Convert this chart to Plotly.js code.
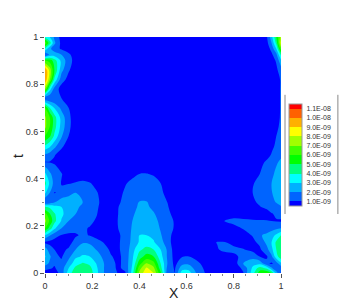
<!DOCTYPE html>
<html><head><meta charset="utf-8">
<script src="https://cdn.plot.ly/plotly-3.0.1.min.js"></script>
<style>html,body{margin:0;padding:0;background:#fff}</style></head>
<body><div id="c" style="width:346px;height:308px"></div>
<script>
const xs=[0,.02,.04,.07,.1,.13,.16,.19,.22,.25, .28,.31,.34,.37,.4,.43,.46,.49,.52,.55, .58,.61,.64,.67,.7,.73,.76,.8,.84,.88, .91,.94,.96,.98,1];
const ts=[0,.02,.04,.07,.1,.13,.16,.19,.22,.25,.28,.3,.34,.38,.42,.445,.47,.5,.54,.58,.62,.66,.7,.74,.78,.82,.86,.9,.925,.95,.975,1];
const zE9=[
[.7,.5,.5,1.4,3.5,4.7,5,4.6,3.2,2,  1.4,.95,.9,3.5,7.3,8.7,8,5.3,1.2,1,  3.5,3.5,2,1.2,.4,.3,.3,.4,.95,3.6,  5.5,5.8,5,2.5,.9],
[1.2,1.1,.9,1.5,3,4.3,4.7,4.3,3.1,2,  1.3,.85,1.2,3.2,6.6,8.2,7.3,4.4,1.6,.9,  2.6,2.6,1.6,1,.4,.3,.3,.4,1.2,3.2,  4.5,3.8,2.2,1.05,1.2],
[2.5,1.8,1.1,1.2,2.4,3.6,4.1,3.8,2.9,2,  1.3,.8,1.3,3,5.6,7.1,6.4,4,1.9,.7,  1.7,1.8,1.3,.8,.4,.3,.3,.4,2,2.7,  2.7,1.2,.85,1.4,2.8],
[3.1,2.2,1.2,.9,1.7,2.8,3.1,3,2.5,1.7,  1.05,.8,1.3,2.8,4.5,5.4,5,3.4,1.8,.6,  .9,1,.7,.4,.3,.3,.4,.75,1.3,1.6,  .95,.9,1.8,3.6,4.7],
[2.5,1.5,1,.8,1.1,2,2.6,2.5,1.9,1.3,  .85,.9,1.3,2.6,3.8,4.3,4,3,1.8,.5,  .3,.3,.3,.3,.4,.9,1.3,1.3,1.05,.7,  .85,1.7,2.7,4,5],
[.8,.7,.6,.6,.7,1.3,1.9,1.8,1.3,.95,  .7,.9,1.3,2.3,3.1,3.5,3.1,2.4,1.4,.5,  .3,.3,.3,.3,.7,1.05,1.05,.65,.5,.8,  1.2,2.3,3,4.2,5],
[3,2.1,1.4,.95,.85,.9,1.15,.95,.7,.5,  .4,.85,1.35,2.2,3,3,2.8,2.1,1.3,.7,  .3,.3,.3,.3,.3,.3,.3,.5,.7,1.05,  1.9,2.2,2.6,3.2,4],
[6,4.6,3.2,2,1.4,1.25,1.1,.95,.7,.5,  .4,1,1.4,2.1,2.8,2.8,2.6,1.9,1.2,.95,  .3,.3,.3,.3,.3,.3,.5,.8,1.05,1.25,  1.4,1.5,1.6,1.8,2],
[7.4,5.8,4.3,2.9,2,1.6,1.35,1.15,.9,.5,  .3,1.05,1.4,2,2.5,2.5,2.3,1.8,1.2,.95,  .3,.3,.3,.3,.3,.7,1,1.2,1.2,1.15,  1.1,1.05,1,.95,.9],
[6.4,5.1,4.1,3.2,2.5,2,1.6,1.3,1.02,.55,  .3,1,1.35,1.85,2.35,2.3,2.1,1.6,1.15,.8,  .3,.3,.3,.3,.3,.7,.8,.7,.5,.4,  .4,.6,.95,1.1,1.3],
[4.1,3.8,3.4,3,2.6,2.2,1.8,1.4,1.1,.65,  .4,.98,1.3,1.7,2.15,2.15,1.8,1.4,1.05,.6,  .3,.3,.3,.3,.3,.3,.3,.3,.4,.7,  .95,1.2,1.35,1.6,1.9],
[.95,1.4,1.9,2.6,2.7,2.4,2,1.5,1.15,.7,  .4,.9,1.2,1.6,2.05,2.05,1.65,1.3,.98,.5,  .3,.3,.3,.3,.3,.3,.3,.3,.6,.85,  1.15,1.45,1.75,2.05,2.4],
[3.2,2,.95,1.2,1.6,2,1.8,1.45,1.05,.6,  .3,.8,1.1,1.35,1.6,1.65,1.4,1.15,.75,.3,  .3,.3,.3,.3,.3,.3,.3,.3,.7,1,  1.3,1.65,1.95,2.3,2.8],
[4.3,2.8,1.6,.95,.95,1.05,1.15,1.05,.75,.3,  .3,.5,.95,1.15,1.3,1.3,1.2,1,.6,.3,  .3,.3,.3,.3,.3,.3,.3,.3,.6,.95,  1.2,1.6,2,2.4,2.9],
[3.2,2.2,1.5,1.05,.5,.6,.6,.4,.3,.3,  .3,.3,.6,.85,1,1.02,.95,.75,.4,.3,  .3,.3,.3,.3,.3,.3,.3,.3,.3,.7,  1,1.4,1.8,2.2,2.7],
[2.2,1.6,1.25,.75,.3,.3,.3,.3,.3,.3,  .3,.3,.3,.5,.7,.7,.6,.4,.3,.3,  .3,.3,.3,.3,.3,.3,.3,.3,.3,.6,  .9,1.25,1.65,2.05,2.5],
[.95,.95,.85,.4,.3,.3,.3,.3,.3,.3,  .3,.3,.3,.3,.3,.3,.3,.3,.3,.3,  .3,.3,.3,.3,.3,.3,.3,.3,.3,.5,  .8,1.1,1.45,1.85,2.2],
[1.8,1.5,1.05,.6,.3,.3,.3,.3,.3,.3,  .3,.3,.3,.3,.3,.3,.3,.3,.3,.3,  .3,.3,.3,.3,.3,.3,.3,.3,.3,.3,  .5,.8,1.05,1.4,1.8],
[4,3.3,2.4,1.2,.6,.3,.3,.3,.3,.3,  .3,.3,.3,.3,.3,.3,.3,.3,.3,.3,  .3,.3,.3,.3,.3,.3,.3,.3,.3,.3,  .3,.6,.85,1.1,1.4],
[6,5.2,3.8,2.1,1,.4,.3,.3,.3,.3,  .3,.3,.3,.3,.3,.3,.3,.3,.3,.3,  .3,.3,.3,.3,.3,.3,.3,.3,.3,.3,  .3,.4,.7,1,1.2],
[7.3,6,4.4,2.6,1.2,.5,.3,.3,.3,.3,  .3,.3,.3,.3,.3,.3,.3,.3,.3,.3,  .3,.3,.3,.3,.3,.3,.3,.3,.3,.3,  .3,.3,.6,.9,1.1],
[7.2,6,4.4,2.6,1.2,.5,.3,.3,.3,.3,  .3,.3,.3,.3,.3,.3,.3,.3,.3,.3,  .3,.3,.3,.3,.3,.3,.3,.3,.3,.3,  .3,.3,.6,.85,1.05],
[6,4,2.9,1.7,1,.5,.3,.3,.3,.3,  .3,.3,.3,.3,.3,.3,.3,.3,.3,.3,  .3,.3,.3,.3,.3,.3,.3,.3,.3,.3,  .3,.3,.5,.8,1.05],
[.95,1.05,1.05,1,.6,.3,.3,.3,.3,.3,  .3,.3,.3,.3,.3,.3,.3,.3,.3,.3,  .3,.3,.3,.3,.3,.3,.3,.3,.3,.3,  .3,.3,.5,.8,1.05],
[7.3,3.5,1.6,.6,.3,.3,.3,.3,.3,.3,  .3,.3,.3,.3,.3,.3,.3,.3,.3,.3,  .3,.3,.3,.3,.3,.3,.3,.3,.3,.3,  .3,.3,.5,.8,1.05],
[10,7.2,3.8,1.4,.7,.3,.3,.3,.3,.3,  .3,.3,.3,.3,.3,.3,.3,.3,.3,.3,  .3,.3,.3,.3,.3,.3,.3,.3,.3,.3,  .3,.3,.5,.8,1.05],
[10,7.6,5,2.3,1.1,.5,.3,.3,.3,.3,  .3,.3,.3,.3,.3,.3,.3,.3,.3,.3,  .3,.3,.3,.3,.3,.3,.3,.3,.3,.3,  .3,.3,.5,.8,1.5],
[6,5.6,4.5,2.7,1.4,.6,.3,.3,.3,.3,  .3,.3,.3,.3,.3,.3,.3,.3,.3,.3,  .3,.3,.3,.3,.3,.3,.3,.3,.3,.3,  .3,.3,.6,1.1,2.8],
[.95,2.2,2.5,2,1.2,.5,.3,.3,.3,.3,  .3,.3,.3,.3,.3,.3,.3,.3,.3,.3,  .3,.3,.3,.3,.3,.3,.3,.3,.3,.3,  .3,.35,.8,1.7,4.2],
[3.8,2.2,1.5,.85,.5,.3,.3,.3,.3,.3,  .3,.3,.3,.3,.3,.3,.3,.3,.3,.3,  .3,.3,.3,.3,.3,.3,.3,.3,.3,.3,  .3,.45,1.3,3,6.5],
[6.5,4.5,2.2,.7,.3,.3,.3,.3,.3,.3,  .3,.3,.3,.3,.3,.3,.3,.3,.3,.3,  .3,.3,.3,.3,.3,.3,.3,.3,.3,.3,  .3,.7,2,4.3,8.3],
[3.8,3,1.8,.6,.3,.3,.3,.3,.3,.3,  .3,.3,.3,.3,.3,.3,.3,.3,.3,.3,  .3,.3,.3,.3,.3,.3,.3,.3,.3,.3,  .3,.9,2.6,5,7.5]
];
const levelVals=[1,2,3,4,5,6,7,8,9,10,11];
const levelText=["1.0E-09","2.0E-09","3.0E-09","4.0E-09","5.0E-09","6.0E-09","7.0E-09","8.0E-09","9.0E-09","1.0E-08","1.1E-08"];
const bandColors=["#0000ff","#0064ff","#00b0ff","#00ffff","#00ff80","#00ff00","#40ff00","#a0ff00","#ffff00","#ffb000","#ff6000","#ff0000"];
const scale=bandColors.map((c,i)=>[i/(bandColors.length-1),c]);
const tickFont={family:"Liberation Sans, Arial, sans-serif",size:9,color:"#333"};
Plotly.newPlot("c",[{type:"contour",x:xs,y:ts,z:zE9,zmin:.5,zmax:11.5,autocontour:false,
 contours:{start:1,end:11,size:1,coloring:"fill",showlines:false},line:{width:0,smoothing:1},colorscale:scale,
 colorbar:{thickness:12.5,thicknessmode:"pixels",len:102,lenmode:"pixels",x:1.034,xanchor:"left",xpad:0,y:.5,yanchor:"middle",ypad:0,
  tickmode:"array",tickvals:levelVals,ticktext:levelText,ticks:"outside",ticklen:3,tickcolor:"rgba(0,0,0,0)",tickfont:{family:"Liberation Sans, Arial, sans-serif",size:7,color:"#333"},outlinewidth:1,outlinecolor:"#999",borderwidth:0}
}],{
 width:346,height:308,margin:{l:45,r:65,t:37,b:35},paper_bgcolor:"#fff",plot_bgcolor:"#00f",showlegend:false,
 font:{family:"Liberation Sans, Arial, sans-serif"},
 xaxis:{range:[0,1],tickvals:[0,.2,.4,.6,.8,1],ticktext:["0","0.2","0.4","0.6","0.8","1"],ticks:"outside",ticklen:4,tickcolor:"#555",tickwidth:1,tickfont:tickFont,showgrid:false,zeroline:false,showline:false,
  minor:{dtick:.05,ticks:"outside",ticklen:2,tickcolor:"#888",showgrid:false}},
 yaxis:{range:[0,1],tickvals:[0,.2,.4,.6,.8,1],ticktext:["0","0.2","0.4","0.6","0.8","1"],ticks:"outside",ticklen:4,tickcolor:"#555",tickwidth:1,tickfont:tickFont,showgrid:false,zeroline:false,showline:false,
  minor:{dtick:.05,ticks:"outside",ticklen:2,tickcolor:"#888",showgrid:false}},
 annotations:[
  {text:"X",xref:"paper",yref:"paper",x:.547,y:-.085,xanchor:"center",yanchor:"middle",showarrow:false,font:{size:14,color:"#222"}},
  {text:"t",xref:"paper",yref:"paper",x:-.114,y:.496,xanchor:"center",yanchor:"middle",showarrow:false,textangle:-90,font:{size:14,color:"#222"}}
 ],
 shapes:[
  {type:"line",xref:"paper",yref:"paper",x0:1.017,x1:1.017,y0:.25,y1:.755,line:{color:"#888",width:1}},
  {type:"line",xref:"paper",yref:"paper",x0:1.241,x1:1.241,y0:.25,y1:.755,line:{color:"#888",width:1}}
 ]
},{displayModeBar:false,staticPlot:true});
</script></body></html>
